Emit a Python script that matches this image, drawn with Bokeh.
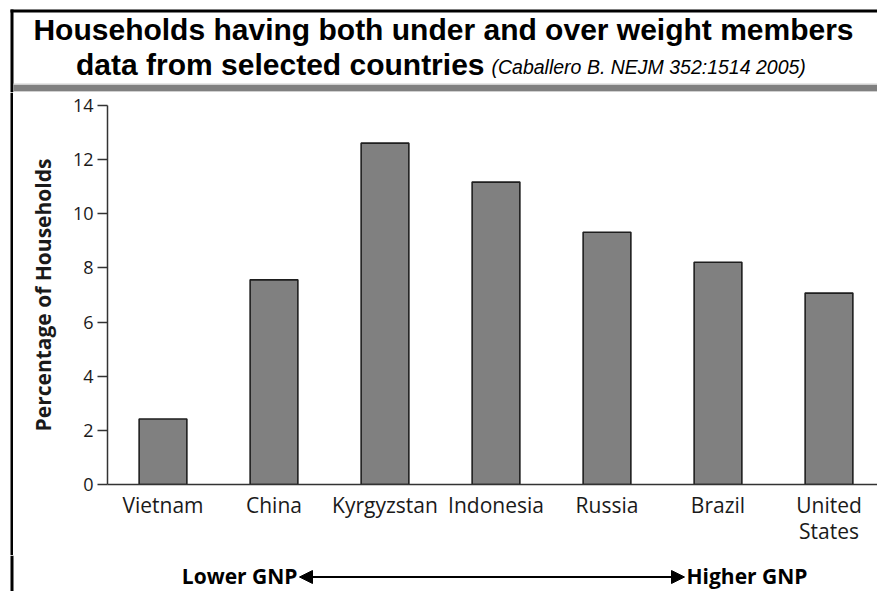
from bokeh.plotting import figure
from bokeh.layouts import column, row
from bokeh.models import Range1d, FixedTicker, Label, Arrow, NormalHead
from bokeh.embed import file_html
from bokeh.resources import INLINE

countries = ["Vietnam", "China", "Kyrgyzstan", "Indonesia", "Russia", "Brazil", "United\nStates"]
values = [2.42, 7.56, 12.61, 11.17, 9.32, 8.21, 7.07]
y_ticks = [0, 2, 4, 6, 8, 10, 12, 14]
title1 = "Households having both under and over weight members"
title2 = "data from selected countries"
source_note = "(Caballero B. NEJM 352:1514  2005)"
y_label = "Percentage of Households"
low_label = "Lower GNP"
high_label = "Higher GNP"

W = 877
HEAD_H, MAIN_H, FOOT_H = 92, 463, 36
BORDER_L, BORDER_R = 10, 13
tick_font = "Open Sans"


def no_align(f):
    try:
        f.frame_align = False
    except Exception:
        pass


def blank(width, height, x0, x1, y0, y1):
    f = figure(width=width, height=height, output_backend="svg", toolbar_location=None,
               x_range=Range1d(x0, x1), y_range=Range1d(y0, y1),
               min_border=0, min_border_left=0, min_border_right=0,
               min_border_top=0, min_border_bottom=0)
    f.axis.visible = False
    f.grid.visible = False
    f.outline_line_color = None
    f.background_fill_color = "white"
    f.border_fill_color = "white"
    no_align(f)
    return f


# ---------- header (title) ----------
head = blank(W, HEAD_H, 0, W, HEAD_H, 0)
head.quad(left=[BORDER_L], right=[W], top=[9], bottom=[12], fill_color="black", line_color=None)
head.quad(left=[BORDER_L], right=[BORDER_R], top=[9], bottom=[HEAD_H], fill_color="black", line_color=None)
head.quad(left=[BORDER_R], right=[W], top=[83], bottom=[92], fill_color="#d0d0d0", line_color=None)
head.quad(left=[BORDER_R], right=[W], top=[84.5], bottom=[90.5], fill_color="#808080", line_color=None)
head.add_layout(Label(x=443, y=29, text=title1, text_align="center", text_baseline="middle",
                      text_font="Liberation Sans", text_font_style="bold",
                      text_font_size="30px", text_color="black"))
head.add_layout(Label(x=484, y=64, text=title2, text_align="right", text_baseline="middle",
                      text_font="Liberation Sans", text_font_style="bold",
                      text_font_size="30px", text_color="black"))
head.add_layout(Label(x=491, y=66, text=source_note, text_align="left", text_baseline="middle",
                      text_font="Liberation Sans", text_font_style="italic",
                      text_font_size="19.5px", text_color="black"))

# ---------- left border strip ----------
strip = blank(BORDER_R, MAIN_H, 0, BORDER_R, 0, 1)
strip.quad(left=[BORDER_L], right=[BORDER_R], top=[1], bottom=[0], fill_color="black", line_color=None)

# ---------- main chart ----------
xs = [i + 0.5 for i in range(len(countries))]
p = figure(width=W - BORDER_R, height=MAIN_H, output_backend="svg", toolbar_location=None,
           x_range=Range1d(0, (W - 107) / 111), y_range=Range1d(0, 14),
           min_border_left=107 - BORDER_R, min_border_top=105 - HEAD_H,
           min_border_bottom=HEAD_H + MAIN_H - 484, min_border_right=0)
no_align(p)
p.outline_line_color = None
p.xgrid.visible = False
p.ygrid.visible = False
p.background_fill_color = "white"
p.border_fill_color = "white"

p.vbar(x=xs, top=values, width=0.43, bottom=0, fill_color="#808080",
       line_color="#1e1e1e", line_width=1.6)

p.yaxis.ticker = FixedTicker(ticks=y_ticks)
p.yaxis.minor_tick_line_color = None
p.yaxis.major_tick_out = 10
p.yaxis.major_tick_in = 0
p.yaxis.major_tick_line_color = "#333333"
p.yaxis.major_tick_line_width = 1.5
p.yaxis.axis_line_color = "#333333"
p.yaxis.axis_line_width = 1.5
p.yaxis.major_label_text_font = tick_font
p.yaxis.major_label_text_font_size = "18px"
p.yaxis.major_label_text_color = "#1a1a1a"
p.yaxis.major_label_standoff = 4
p.yaxis.axis_label = y_label
p.yaxis.axis_label_text_font = tick_font
p.yaxis.axis_label_text_font_style = "bold"
p.yaxis.axis_label_text_font_size = "21px"
p.yaxis.axis_label_text_color = "#1a1a1a"
p.yaxis.axis_label_standoff = 13

p.xaxis.ticker = FixedTicker(ticks=xs)
p.xaxis.major_label_overrides = {x: c for x, c in zip(xs, countries)}
p.xaxis.minor_tick_line_color = None
p.xaxis.major_tick_line_color = None
p.xaxis.axis_line_color = "#333333"
p.xaxis.axis_line_width = 1.5
p.xaxis.major_label_text_font = tick_font
p.xaxis.major_label_text_font_size = "21px"
p.xaxis.major_label_text_color = "#1a1a1a"
p.xaxis.major_label_text_line_height = 0.95
p.xaxis.major_label_standoff = 0

# ---------- footer (GNP arrow) ----------
top_y = HEAD_H + MAIN_H
foot = blank(W, FOOT_H, 0, W, top_y + FOOT_H, top_y)
foot.quad(left=[BORDER_L], right=[BORDER_R], top=[top_y], bottom=[top_y + FOOT_H],
          fill_color="black", line_color=None)
foot.add_layout(Arrow(x_start=299, y_start=576.5, x_end=684, y_end=576.5,
                      start=NormalHead(size=13, fill_color="black", line_color="black"),
                      end=NormalHead(size=13, fill_color="black", line_color="black"),
                      line_color="black", line_width=2))
foot.add_layout(Label(x=297, y=575.5, text=low_label, text_align="right", text_baseline="middle",
                      text_font=tick_font, text_font_style="bold", text_font_size="21px",
                      text_color="black"))
foot.add_layout(Label(x=686, y=575.5, text=high_label, text_align="left", text_baseline="middle",
                      text_font=tick_font, text_font_style="bold", text_font_size="21px",
                      text_color="black"))

layout = column(head, row(strip, p, spacing=0), foot, spacing=0)
open("out.html", "w").write(file_html(layout, INLINE))
